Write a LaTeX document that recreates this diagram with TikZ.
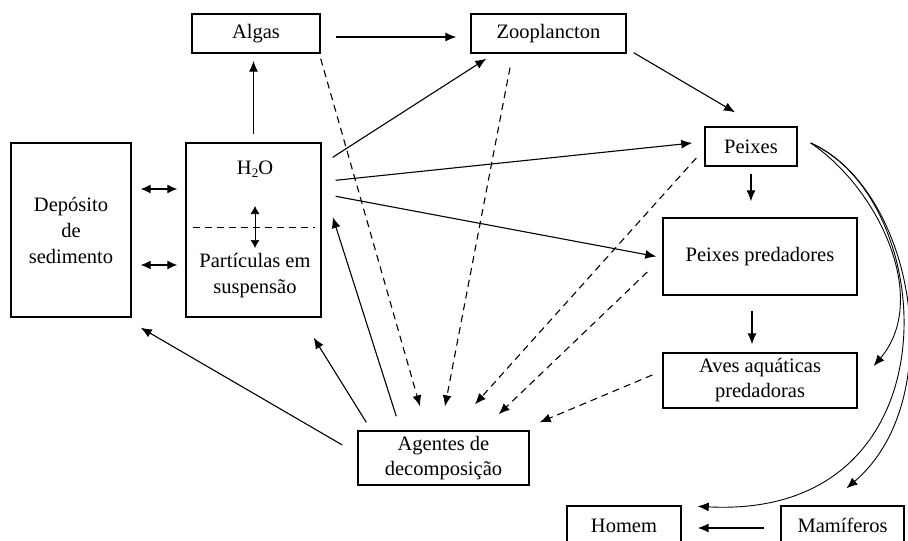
\documentclass[tikz,border=0pt]{standalone}
\usepackage{fontspec}
\setmainfont{Liberation Serif}
\usetikzlibrary{arrows.meta}
\begin{document}
\begin{tikzpicture}[x=1pt,y=-1pt,
  box/.style={draw, line width=1.4pt, rectangle, inner sep=0pt, font=\fontsize{20.5}{25}\selectfont, align=center},
  lbl/.style={font=\fontsize{20.5}{26}\selectfont, align=center, inner sep=0pt},
  arr/.style={line width=1.1pt, -{Latex[length=11pt,width=9pt]}},
  darr/.style={arr, dash pattern=on 7pt off 5pt},
  barr/.style={line width=1.1pt, {Latex[length=10pt,width=9pt]}-{Latex[length=10pt,width=9pt]}}]
\useasboundingbox (0,0) rectangle (908,541);
\clip (0,0) rectangle (908,541);
\fill[white] (0,0) rectangle (908,541);

% boxes
\node[box, minimum width=128pt, minimum height=39pt] (algas) at (256,33.5) {Algas};
\node[box, minimum width=155pt, minimum height=39pt] (zoo) at (548.5,33.5) {Zooplancton};
\node[box, minimum width=120pt, minimum height=174pt, font=\fontsize{20.5}{26}\selectfont] (dep) at (71,230) {Depósito\\de\\sedimento};
\node[box, minimum width=135pt, minimum height=174pt] (h2o) at (253.5,230) {};
\node[box, minimum width=92pt, minimum height=39pt] (peixes) at (751,146.5) {Peixes};
\node[box, minimum width=194pt, minimum height=77pt] (pp) at (760,256.5) {Peixes predadores};
\node[box, minimum width=194pt, minimum height=55pt] (aves) at (760,380.5) {Aves aquáticas\\predadoras};
\node[box, minimum width=171pt, minimum height=54pt] (agentes) at (443.5,458) {Agentes de\\decomposição};
\node[box, minimum width=114pt, minimum height=39pt] (homem) at (624,525.5) {Homem};
\node[box, minimum width=123pt, minimum height=39pt] (mam) at (842.5,525.5) {Mamíferos};

% contents of the water box
\node[lbl] (h2otxt) at (255,169) {H\raisebox{-0.35ex}{\fontsize{13}{13}\selectfont 2}O};
\node[lbl] (partxt) at (255,276) {Partículas em\\suspensão};
\draw[line width=1pt, dash pattern=on 7pt off 5pt] ([xshift=-60.5pt,yshift=3pt]h2o.center) -- ([xshift=61.5pt,yshift=3pt]h2o.center);
\draw[line width=0.7pt, {Latex[length=8pt,width=9pt]}-{Latex[length=8pt,width=9pt]}] ([xshift=1.5pt,yshift=24pt]h2o.center) -- ([xshift=1.5pt,yshift=-18pt]h2o.center);

% double arrows between sediment and water
\draw[barr] ([xshift=9pt,yshift=41pt]dep.east) -- ([xshift=-8pt,yshift=41pt]h2o.west);
\draw[barr] ([xshift=9pt,yshift=-35pt]dep.east) -- ([xshift=-8pt,yshift=-35pt]h2o.west);

% solid arrows
\draw[arr] ([yshift=8pt]h2o.north) -- ([yshift=-7pt]h2o.north |- algas.south);
\draw[arr] ([xshift=15pt,yshift=-3.5pt]algas.east) -- ([xshift=-14pt,yshift=-3.5pt]zoo.west);
\draw[arr] ([xshift=11pt,yshift=-15pt]h2o.north east) -- ([xshift=16pt,yshift=-5pt]zoo.south west);
\draw[arr] ([xshift=14pt,yshift=-38pt]h2o.north east) -- ([xshift=-12pt,yshift=3.5pt]peixes.west);
\draw[arr] ([xshift=14pt,yshift=-54pt]h2o.north east) -- ([xshift=-6pt]pp.west);
\draw[arr] ([xshift=7pt,yshift=1pt]zoo.south east) -- ([xshift=-16pt,yshift=14pt]peixes.north);
\draw[arr] ([yshift=-7pt]peixes.south) -- ([yshift=16pt]peixes.south |- pp.north);
\draw[arr] ([xshift=-8pt,yshift=-15pt]pp.south) -- ([xshift=-8pt,yshift=8pt]aves.north);
\draw[arr] ([xshift=-16pt,yshift=-2.5pt]mam.west) -- ([xshift=16pt,yshift=-2.5pt]homem.east);

% from decomposers back
\draw[arr] ([xshift=-15pt,yshift=13pt]agentes.west) -- ([xshift=9pt,yshift=-10pt]dep.south east);
\draw[arr] ([xshift=9pt,yshift=8pt]agentes.north west) -- ([xshift=-8pt,yshift=-20pt]h2o.south east);
\draw[arr] ([xshift=39pt,yshift=14pt]agentes.north west) -- ([xshift=11pt,yshift=13pt]h2o.east);

% dashed arrows to decomposers
\draw[darr] ([yshift=-5pt]algas.south east) -- ([xshift=-23.5pt,yshift=24pt]agentes.north);
\draw[darr] ([xshift=-38.5pt,yshift=-14pt]zoo.south) -- ([xshift=1.5pt,yshift=24pt]agentes.north);
\draw[darr] ([xshift=-8pt,yshift=-11.5pt]peixes.west) -- ([xshift=31.5pt,yshift=26pt]agentes.north);
\draw[darr] ([xshift=-15pt,yshift=-15.5pt]pp.west) -- ([xshift=-31pt,yshift=16pt]agentes.north east);
\draw[darr] ([xshift=-10pt,yshift=5.5pt]aves.west) -- ([xshift=10pt,yshift=8pt]agentes.north east);

% curved arrows from fish
\draw[arr, line width=0.9pt] ([xshift=13pt,yshift=3.5pt]peixes.east) .. controls (880,190) and (930,300) .. ([xshift=16pt,yshift=14.5pt]aves.east);
\draw[arr, line width=0.9pt] ([xshift=13pt,yshift=3.5pt]peixes.east) .. controls (940,200) and (960,520) .. ([xshift=16pt,yshift=-1pt]homem.north east);
\draw[arr, line width=0.9pt] ([xshift=13pt,yshift=3.5pt]peixes.east) .. controls (915,190) and (950,400) .. ([xshift=4pt,yshift=17pt]mam.north);
\end{tikzpicture}
\end{document}
